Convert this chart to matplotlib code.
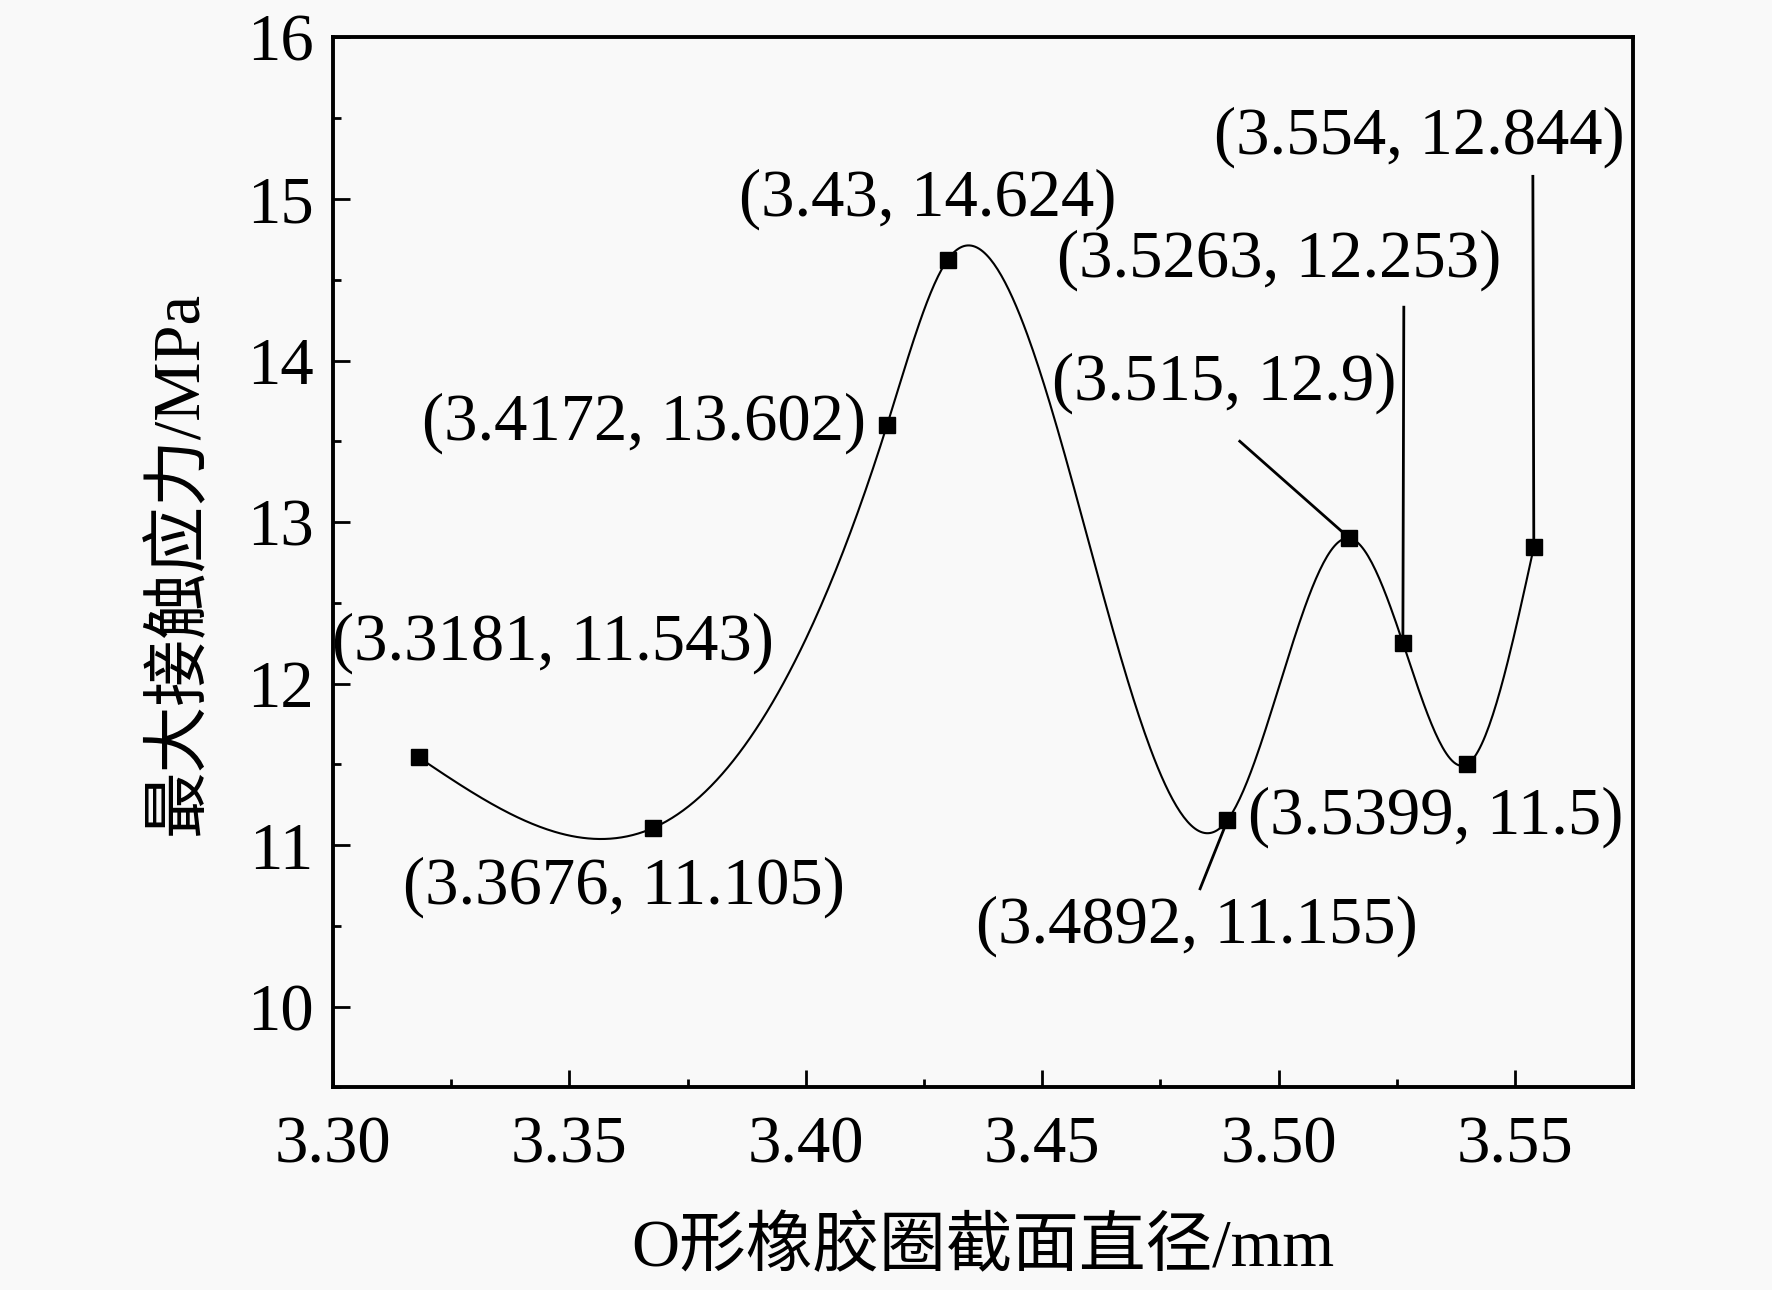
import numpy as np
import matplotlib
matplotlib.use("Agg")
import matplotlib.pyplot as plt
from matplotlib.ticker import MultipleLocator, FormatStrFormatter

# ---- data ----
diameters = [3.3181, 3.3676, 3.4172, 3.43, 3.4892, 3.515, 3.5263, 3.5399, 3.554]
stresses = [11.543, 11.105, 13.602, 14.624, 11.155, 12.9, 12.253, 11.5, 12.844]
labels = ["(3.3181, 11.543)", "(3.3676, 11.105)", "(3.4172, 13.602)",
          "(3.43, 14.624)", "(3.4892, 11.155)", "(3.515, 12.9)",
          "(3.5263, 12.253)", "(3.5399, 11.5)", "(3.554, 12.844)"]
xlabel = "O形橡胶圈截面直径/mm"
ylabel = "最大接触应力/MPa"

# label text positions (data coords) and whether a leader line is drawn
label_pos = [(3.3466, 12.25), (3.3616, 10.74), (3.3657, 13.61), (3.4258, 15.0),
             (3.4827, 10.50), (3.4886, 13.86), (3.5001, 14.62), (3.5333, 11.17),
             (3.5297, 15.38)]
leader = [False, False, False, False, True, True, True, False, True]
leader_start = [None, None, None, None, (3.4834, 10.73), (3.4918, 13.5),
                (3.5265, 14.33), None, (3.5538, 15.14)]

plt.rcParams['font.family'] = ['Liberation Serif', 'Noto Sans CJK SC']
plt.rcParams['mathtext.fontset'] = 'stix'


def natural_spline(x, y, n=600):
    x = np.asarray(x, float)
    y = np.asarray(y, float)
    m = len(x)
    h = np.diff(x)
    A = np.zeros((m, m))
    b = np.zeros(m)
    A[0, 0] = 1
    A[-1, -1] = 1
    for i in range(1, m - 1):
        A[i, i - 1] = h[i - 1]
        A[i, i] = 2 * (h[i - 1] + h[i])
        A[i, i + 1] = h[i]
        b[i] = 6 * ((y[i + 1] - y[i]) / h[i] - (y[i] - y[i - 1]) / h[i - 1])
    M = np.linalg.solve(A, b)
    xs = np.linspace(x[0], x[-1], n)
    idx = np.clip(np.searchsorted(x, xs) - 1, 0, m - 2)
    x0, x1 = x[idx], x[idx + 1]
    hh = x1 - x0
    ys = (M[idx] * (x1 - xs) ** 3 / (6 * hh) + M[idx + 1] * (xs - x0) ** 3 / (6 * hh)
          + (y[idx] / hh - M[idx] * hh / 6) * (x1 - xs)
          + (y[idx + 1] / hh - M[idx + 1] * hh / 6) * (xs - x0))
    return xs, ys


fig = plt.figure(figsize=(17.72, 12.90), dpi=100, facecolor='#f9f9f9')
ax = fig.add_axes([0.188, 0.157, 0.7336, 0.814])
ax.set_facecolor('#f9f9f9')

xs, ys = natural_spline(diameters, stresses)
ax.plot(xs, ys, color='black', lw=1.5, zorder=2)
ax.plot(diameters, stresses, ls='none', marker='s', ms=12, color='black', zorder=3)

for i, (lab, (tx, ty)) in enumerate(zip(labels, label_pos)):
    ax.text(tx, ty, lab, fontsize=48, ha='center', va='center', zorder=4)
    if leader[i]:
        sx, sy = leader_start[i]
        ax.plot([sx, diameters[i]], [sy, stresses[i]], color='black', lw=2, zorder=2)

ax.set_xlim(3.30, 3.575)
ax.set_ylim(9.5, 16)
ax.xaxis.set_major_locator(MultipleLocator(0.05))
ax.xaxis.set_minor_locator(MultipleLocator(0.025))
ax.yaxis.set_major_locator(MultipleLocator(1))
ax.yaxis.set_minor_locator(MultipleLocator(0.5))
ax.xaxis.set_major_formatter(FormatStrFormatter('%.2f'))
ax.tick_params(which='major', direction='in', length=12, width=2, labelsize=48, pad=14)
ax.tick_params(which='minor', direction='in', length=6, width=2)
ax.tick_params(axis='x', pad=20)
for s in ax.spines.values():
    s.set_linewidth(2.8)

ax.set_xlabel(xlabel, fontsize=48, labelpad=30)
ax.set_ylabel(ylabel, fontsize=48, labelpad=26)

fig.savefig('out.png', dpi=100, facecolor=fig.get_facecolor())
